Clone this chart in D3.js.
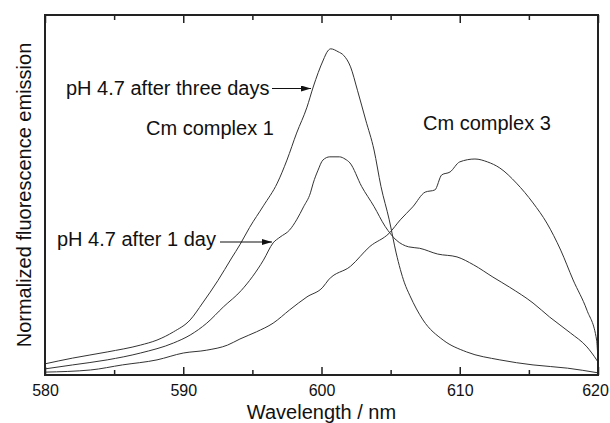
<!DOCTYPE html>
<html>
<head>
<meta charset="utf-8">
<script src="https://cdn.jsdelivr.net/npm/d3@7"></script>
<style>
  body { margin: 0; background: #fff; }
  svg { font-family: "Liberation Sans", Arial, sans-serif; }
  .curve { fill: none; stroke: #333; stroke-width: 1; }
  .label { font-size: 20px; fill: #111; }
</style>
</head>
<body>
<svg id="chart"></svg>
<script>
// wavelengths (nm) and normalized emission
const wlThreeDays = [580, 582, 584.5, 586.9, 588.1, 589.3, 590.5, 591.4, 592.5, 593.5, 594.1, 594.8, 595.8, 596.8, 597.5, 598.2, 598.95, 599.4, 600.13, 600.45, 600.67, 601.2, 601.6, 602.1, 602.6, 603.2, 603.8, 604.3, 604.9, 605.4, 606.0, 606.4, 607.34, 608.8, 610.5, 612.9, 615.3, 617.8, 620];
const valThreeDays = [0.031, 0.047, 0.064, 0.083, 0.097, 0.12, 0.153, 0.2, 0.262, 0.325, 0.362, 0.41, 0.47, 0.533, 0.597, 0.672, 0.744, 0.8, 0.875, 0.9, 0.906, 0.898, 0.888, 0.856, 0.791, 0.708, 0.625, 0.524, 0.431, 0.339, 0.256, 0.22, 0.153, 0.097, 0.064, 0.042, 0.028, 0.019, 0.006];

const wlOneDay = [580, 582, 584.5, 586.9, 589.3, 590.5, 591.7, 592.9, 594.2, 595.8, 596.5, 597.0, 597.7, 598.2, 598.7, 599.2, 599.4, 599.75, 600.1, 600.6, 601.3, 601.7, 602.06, 602.9, 603.8, 604.6, 605.4, 606.3, 607.1, 608.4, 609.8, 611.0, 612.4, 613.6, 615.3, 616.5, 618.0, 619.2, 619.9, 620];
const valOneDay = [0.017, 0.028, 0.042, 0.061, 0.089, 0.111, 0.144, 0.189, 0.235, 0.319, 0.367, 0.383, 0.403, 0.431, 0.467, 0.506, 0.533, 0.569, 0.597, 0.606, 0.606, 0.6, 0.589, 0.524, 0.468, 0.413, 0.375, 0.356, 0.352, 0.336, 0.328, 0.306, 0.272, 0.244, 0.2, 0.161, 0.117, 0.078, 0.042, 0.036];

const wlComplex3 = [580, 583.3, 585.6, 588.1, 590.0, 591.7, 593.2, 594.1, 595.3, 596.5, 597.7, 598.95, 600.1, 600.5, 602.1, 603.5, 604.9, 605.7, 606.6, 607.5, 608.2, 608.7, 609.3, 610.0, 611.1, 612.0, 612.9, 614.1, 615.3, 616.3, 617.3, 618.2, 619.2, 619.9, 620];
const valComplex3 = [0.008, 0.014, 0.028, 0.042, 0.061, 0.069, 0.083, 0.1, 0.12, 0.144, 0.181, 0.217, 0.244, 0.264, 0.302, 0.357, 0.394, 0.431, 0.467, 0.508, 0.514, 0.556, 0.564, 0.592, 0.6, 0.592, 0.575, 0.533, 0.478, 0.422, 0.347, 0.264, 0.18, 0.097, 0.04];

const xTicks = [580, 590, 600, 610, 620];
const xMinorTicks = [585, 595, 605, 615];

const width = 610, height = 423;
const margin = { top: 15, right: 12, bottom: 48, left: 45 };

const svg = d3.select('#chart').attr('width', width).attr('height', height);

const x = d3.scaleLinear().domain([580, 620]).range([margin.left, width - margin.right]);
const y = d3.scaleLinear().domain([0, 1]).range([height - margin.bottom, margin.top]);

const series = [
  { wl: wlThreeDays, val: valThreeDays },
  { wl: wlOneDay, val: valOneDay },
  { wl: wlComplex3, val: valComplex3 }
];

const line = d3.line()
  .x(d => x(d[0]))
  .y(d => y(d[1]))
  .curve(d3.curveMonotoneX);

series.forEach(s => {
  svg.append('path')
    .attr('class', 'curve')
    .attr('d', line(s.wl.map((w, i) => [w, s.val[i]])));
});

// axes with inward ticks, bottom and top
const yBottom = y(0), yTop = y(1);
svg.append('g')
  .attr('transform', `translate(0,${yBottom})`)
  .call(d3.axisBottom(x).tickValues(xTicks).tickSizeInner(-8).tickSizeOuter(0).tickPadding(10))
  .call(g => g.selectAll('text').attr('font-size', 16).attr('fill', '#111').attr('font-family', '"Liberation Sans", Arial, sans-serif'))
  .call(g => g.selectAll('text').filter(d => d === 620).attr('dx', -3))  // keep last label inside the page
  .call(g => g.select('.domain').remove());
svg.append('g')
  .attr('transform', `translate(0,${yBottom})`)
  .call(d3.axisBottom(x).tickValues(xMinorTicks).tickSizeInner(-5).tickSizeOuter(0).tickFormat(''))
  .call(g => g.select('.domain').remove());
svg.append('g')
  .attr('transform', `translate(0,${yTop})`)
  .call(d3.axisTop(x).tickValues(xTicks).tickSizeInner(-8).tickSizeOuter(0).tickFormat(''))
  .call(g => g.select('.domain').remove());
svg.append('g')
  .attr('transform', `translate(0,${yTop})`)
  .call(d3.axisTop(x).tickValues(xMinorTicks).tickSizeInner(-5).tickSizeOuter(0).tickFormat(''))
  .call(g => g.select('.domain').remove());
svg.selectAll('.tick line').attr('stroke', '#222').attr('stroke-width', 1.5);

// frame
svg.append('rect')
  .attr('x', x(580)).attr('y', yTop)
  .attr('width', x(620) - x(580)).attr('height', yBottom - yTop)
  .attr('fill', 'none').attr('stroke', '#222').attr('stroke-width', 2);

// axis titles
svg.append('text').attr('class', 'label')
  .attr('x', (x(580) + x(620)) / 2).attr('y', 419)
  .attr('text-anchor', 'middle')
  .text('Wavelength / nm');
svg.append('text').attr('class', 'label')
  .attr('transform', `translate(31,${(yTop + yBottom) / 2}) rotate(-90)`)
  .attr('text-anchor', 'middle')
  .text('Normalized fluorescence emission');

// annotations
svg.append('defs').append('marker')
  .attr('id', 'arrow')
  .attr('viewBox', '0 0 10 6')
  .attr('refX', 10).attr('refY', 3)
  .attr('markerWidth', 10).attr('markerHeight', 6)
  .attr('markerUnits', 'userSpaceOnUse')
  .attr('orient', 'auto')
  .append('path').attr('d', 'M0,0 L10,3 L0,6 Z').attr('fill', '#111');

svg.append('text').attr('class', 'label').attr('x', 66).attr('y', 95).text('pH 4.7 after three days');
svg.append('line').attr('x1', 272).attr('x2', 311).attr('y1', 88.5).attr('y2', 88.5)
  .attr('stroke', '#111').attr('stroke-width', 1.2).attr('marker-end', 'url(#arrow)');

svg.append('text').attr('class', 'label').attr('x', 146).attr('y', 135).text('Cm complex 1');
svg.append('text').attr('class', 'label').attr('x', 423).attr('y', 130).text('Cm complex 3');

svg.append('text').attr('class', 'label').attr('x', 57).attr('y', 246).text('pH 4.7 after 1 day');
svg.append('line').attr('x1', 220).attr('x2', 272).attr('y1', 242).attr('y2', 242)
  .attr('stroke', '#111').attr('stroke-width', 1.2).attr('marker-end', 'url(#arrow)');
</script>
</body>
</html>
